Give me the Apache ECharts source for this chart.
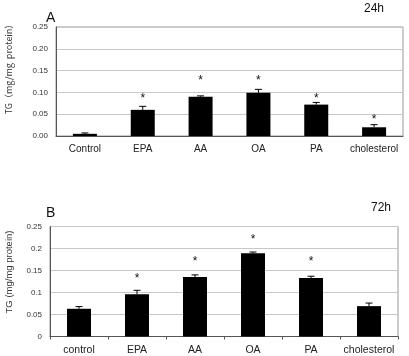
<!DOCTYPE html>
<html><head><meta charset="utf-8">
<script src="https://cdn.jsdelivr.net/npm/echarts@6/dist/echarts.min.js"></script>
<style>html,body{margin:0;padding:0;background:#fff}#c{width:409px;height:356px}</style>
</head><body><div id="c"></div>
<script>
const catsA = ['Control','EPA','AA','OA','PA','cholesterol'];
const catsB = ['control','EPA','AA','OA','PA','cholesterol'];
const tg24 = [0.005, 0.060, 0.090, 0.099, 0.072, 0.020];
const err24 = [0.002, 0.008, 0.002, 0.008, 0.005, 0.006];
const star24 = [null, 0.091, 0.131, 0.131, 0.091, 0.041];
const tg72 = [0.063, 0.096, 0.135, 0.189, 0.133, 0.069];
const err72 = [0.005, 0.009, 0.005, 0.003, 0.004, 0.007];
const star72 = [null, 0.136, 0.174, 0.225, 0.174, null];
const ticksA = ['0.00','0.05','0.10','0.15','0.20','0.25'];
const ticksB = ['0','0.05','0.1','0.15','0.2','0.25'];

const font = 'Arial, "Liberation Sans", sans-serif';
const chart = echarts.init(document.getElementById('c'));

function errItem(params, api){
  const p0 = api.coord([api.value(0), api.value(1)]);
  const p1 = api.coord([api.value(0), api.value(1) + api.value(2)]);
  const st = {stroke:'#000', lineWidth:1};
  return {type:'group', children:[
    {type:'line', shape:{x1:p0[0], y1:p0[1], x2:p1[0], y2:p1[1]}, style:st},
    {type:'line', shape:{x1:p1[0]-3.5, y1:p1[1], x2:p1[0]+3.5, y2:p1[1]}, style:st}
  ]};
}
function starItem(params, api){
  const v = api.value(1);
  if (v == null || isNaN(v)) return null;
  const p = api.coord([api.value(0), v]);
  return {type:'text', x:p[0], y:p[1]+2, style:{text:'*', align:'center', verticalAlign:'middle', fontSize:12, fontFamily:font, fill:'#111'}};
}
function yAx(gi, ticks){
  return {type:'value', gridIndex:gi, min:0, max:0.25, interval:0.05,
    axisLine:{show:true, lineStyle:{color:'#555'}}, axisTick:{show:false},
    axisLabel:{fontSize:8, color:'#333', fontFamily:font, margin:8,
      formatter:(v)=>ticks[Math.round(v/0.05)]},
    splitLine:{show:true, lineStyle:{color:'#c8c8c8'}}};
}
function xAx(gi, cats, tick, fs){
  return {type:'category', gridIndex:gi, data:cats,
    axisLine:{lineStyle:{color:'#555'}},
    axisTick:{show:tick, length:3, lineStyle:{color:'#555'}},
    axisLabel:{fontSize:fs, color:'#222', fontFamily:font, margin:8, interval:0, hideOverlap:false}};
}
chart.setOption({
  animation:false,
  grid:[
    {left:56, right:6, top:27, height:109, show:true, borderColor:'#999', borderWidth:1},
    {left:50, right:11, top:226.5, height:110, show:true, borderColor:'#999', borderWidth:1}
  ],
  xAxis:[xAx(0, catsA, false, 10), xAx(1, catsB, true, 10.5)],
  yAxis:[yAx(0, ticksA), yAx(1, ticksB)],
  graphic:[
    {type:'text', x:9, y:67, rotation:Math.PI/2, style:{text:'TG（mg/mg  protein）', align:'center', verticalAlign:'middle', fontSize:9, fill:'#333', fontFamily:'"Noto Sans CJK JP", sans-serif'}},
    {type:'text', x:9, y:272, rotation:Math.PI/2, style:{text:'TG (mg/mg protein)', align:'center', verticalAlign:'middle', fontSize:9.5, fill:'#333', fontFamily:font}},
    {type:'text', x:46, y:11, style:{text:'A', fontSize:14, fill:'#111', fontFamily:font}},
    {type:'text', x:46, y:206, style:{text:'B', fontSize:14, fill:'#111', fontFamily:font}},
    {type:'text', x:364, y:3, style:{text:'24h', fontSize:12, fill:'#111', fontFamily:font}},
    {type:'text', x:371, y:202, style:{text:'72h', fontSize:12, fill:'#111', fontFamily:font}}
  ],
  series:[
    {type:'bar', xAxisIndex:0, yAxisIndex:0, data:tg24, barWidth:24, itemStyle:{color:'#000'}},
    {type:'custom', xAxisIndex:0, yAxisIndex:0, renderItem:errItem, data:tg24.map((v,i)=>[i,v,err24[i]]), z:3},
    {type:'custom', xAxisIndex:0, yAxisIndex:0, renderItem:starItem, data:star24.map((v,i)=>[i,v==null?NaN:v]), z:3},
    {type:'bar', xAxisIndex:1, yAxisIndex:1, data:tg72, barWidth:24, itemStyle:{color:'#000'}},
    {type:'custom', xAxisIndex:1, yAxisIndex:1, renderItem:errItem, data:tg72.map((v,i)=>[i,v,err72[i]]), z:3},
    {type:'custom', xAxisIndex:1, yAxisIndex:1, renderItem:starItem, data:star72.map((v,i)=>[i,v==null?NaN:v]), z:3}
  ]
});
</script></body></html>
